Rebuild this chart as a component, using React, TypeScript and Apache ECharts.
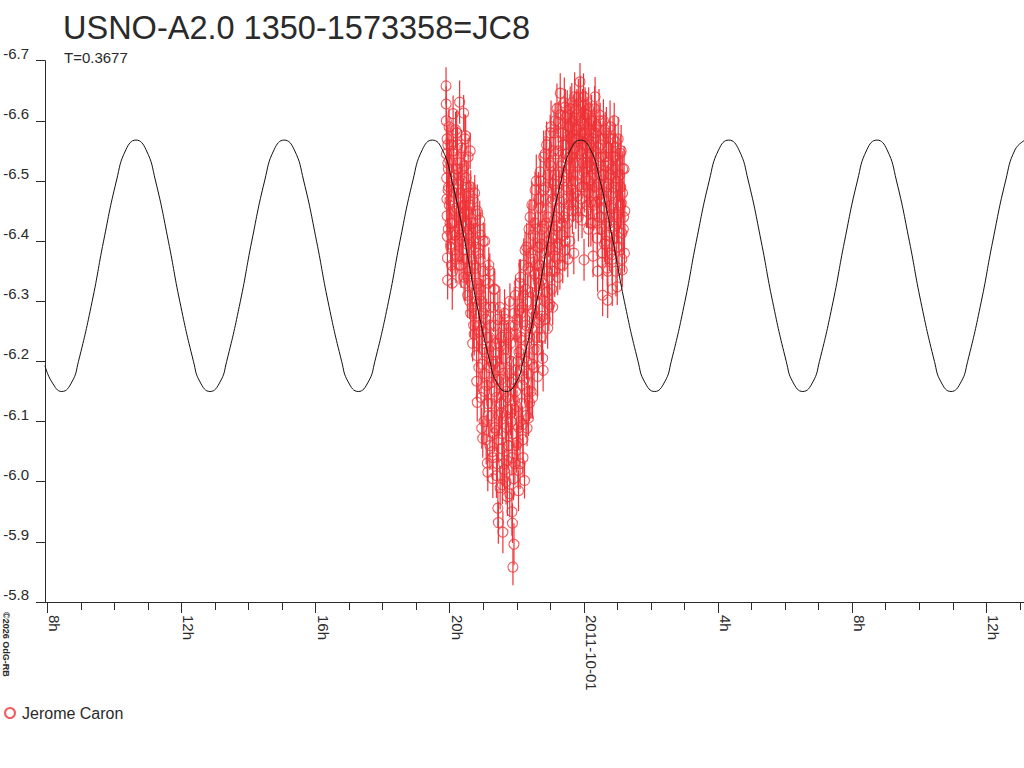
import React, { useEffect, useRef } from "react";
import * as echarts from "echarts";

const TITLE = "USNO-A2.0 1350-1573358=JC8";
const PERIOD_LABEL = "T=0.3677";
const OBSERVER = "Jerome Caron";
const COPYRIGHT = "©2026 OdG-RB";
const DATE_LABEL = "2011-10-01";

// hours relative to 2011-10-01 00:00 UT
const X_MIN = -16.0686;
const X_MAX = 13.124;
const MAJOR_TICKS = [-16, -12, -8, -4, 0, 4, 8, 12];
const MINOR_TICKS = [-16, -15, -14, -13, -12, -11, -10, -9, -8, -7, -6, -5, -4, -3, -2, -1, 0, 1, 2, 3, 4, 5, 6, 7, 8, 9, 10, 11, 12, 13];
const Y_MIN = -6.7;
const Y_MAX = -5.8;
const Y_STEP = 0.1;

// fitted light-curve: [hour, magnitude]
const fitCurve: [number, number][] = [
  [-16.07, -6.193], [-15.866, -6.166], [-15.566, -6.15], [-15.266, -6.166],
  [-15.071, -6.2], [-14.662, -6.3], [-14.322, -6.4], [-13.94, -6.5], [-13.656, -6.552], [-13.356, -6.568], [-13.056, -6.552], [-12.772, -6.5], [-12.39, -6.4], [-12.05, -6.3], [-11.641, -6.2], [-11.447, -6.166], [-11.147, -6.15], [-10.847, -6.166],
  [-10.652, -6.2], [-10.243, -6.3], [-9.903, -6.4], [-9.521, -6.5], [-9.237, -6.552], [-8.937, -6.568], [-8.637, -6.552], [-8.353, -6.5], [-7.971, -6.4], [-7.631, -6.3], [-7.222, -6.2], [-7.028, -6.166], [-6.728, -6.15], [-6.428, -6.166],
  [-6.233, -6.2], [-5.824, -6.3], [-5.484, -6.4], [-5.102, -6.5], [-4.818, -6.552], [-4.518, -6.568], [-4.218, -6.552], [-3.934, -6.5], [-3.552, -6.4], [-3.212, -6.3], [-2.803, -6.2], [-2.609, -6.166], [-2.309, -6.15], [-2.009, -6.166],
  [-1.814, -6.2], [-1.405, -6.3], [-1.065, -6.4], [-0.683, -6.5], [-0.399, -6.552], [-0.099, -6.568], [0.201, -6.552], [0.485, -6.5], [0.867, -6.4], [1.207, -6.3], [1.616, -6.2], [1.81, -6.166], [2.11, -6.15], [2.41, -6.166],
  [2.605, -6.2], [3.014, -6.3], [3.354, -6.4], [3.736, -6.5], [4.02, -6.552], [4.32, -6.568], [4.62, -6.552], [4.904, -6.5], [5.286, -6.4], [5.626, -6.3], [6.035, -6.2], [6.229, -6.166], [6.529, -6.15], [6.829, -6.166],
  [7.024, -6.2], [7.433, -6.3], [7.773, -6.4], [8.155, -6.5], [8.439, -6.552], [8.739, -6.568], [9.039, -6.552], [9.323, -6.5], [9.705, -6.4], [10.045, -6.3], [10.454, -6.2], [10.648, -6.166], [10.948, -6.15], [11.248, -6.166],
  [11.443, -6.2], [11.852, -6.3], [12.192, -6.4], [12.574, -6.5], [12.858, -6.552], [13.158, -6.568],
];

// observations, first pass (edges and outliers): [hour, magnitude, error]
const observationsA: [number, number, number][] = [
  [-4.110, -6.658, 0.031], [-4.105, -6.628, 0.030], [-4.098, -6.545, 0.028], [-4.092, -6.505, 0.025], [-4.086, -6.470, 0.034], [-4.080, -6.442, 0.035], [-4.074, -6.408, 0.030], [-4.068, -6.372, 0.028], [-4.062, -6.335, 0.032], [-4.056, -6.560, 0.030], [-4.050, -6.485, 0.025], [-4.044, -6.420, 0.036], [-4.038, -6.520, 0.028],
  [-4.020, -6.590, 0.030], [-4.005, -6.535, 0.032], [-3.990, -6.468, 0.028], [-3.975, -6.395, 0.030], [-3.960, -6.560, 0.035], [-3.945, -6.500, 0.026], [-3.930, -6.430, 0.028], [-3.915, -6.350, 0.033], [-3.900, -6.612, 0.030], [-3.885, -6.545, 0.028], [-3.870, -6.480, 0.038], [-3.855, -6.415, 0.030], [-3.840, -6.378, 0.032],
  [-3.825, -6.585, 0.030], [-3.810, -6.520, 0.028], [-3.795, -6.455, 0.033], [-3.780, -6.400, 0.035], [-3.765, -6.560, 0.030], [-3.750, -6.495, 0.027], [-3.735, -6.440, 0.028], [-3.720, -6.360, 0.032], [-3.705, -6.631, 0.036], [-3.690, -6.530, 0.030],
  [-3.675, -6.470, 0.030], [-3.660, -6.410, 0.033], [-3.645, -6.555, 0.030], [-3.630, -6.500, 0.028], [-3.615, -6.440, 0.034], [-3.600, -6.370, 0.032], [-3.585, -6.613, 0.030], [-3.570, -6.525, 0.026], [-3.555, -6.460, 0.028], [-3.540, -6.330, 0.030],
  [-3.525, -6.575, 0.035], [-3.510, -6.505, 0.030], [-3.495, -6.450, 0.027], [-3.480, -6.395, 0.028], [-3.465, -6.340, 0.033], [-3.450, -6.540, 0.032], [-3.435, -6.480, 0.030], [-3.420, -6.420, 0.036], [-3.405, -6.300, 0.030],
  [-3.390, -6.550, 0.030], [-3.375, -6.490, 0.028], [-3.360, -6.430, 0.028], [-3.345, -6.370, 0.034], [-3.330, -6.290, 0.032], [-3.315, -6.230, 0.030], [-3.300, -6.470, 0.027], [-3.285, -6.400, 0.030], [-3.270, -6.245, 0.035],
  [-3.255, -6.480, 0.030], [-3.240, -6.420, 0.033], [-3.225, -6.355, 0.028], [-3.210, -6.300, 0.030], [-3.195, -6.167, 0.030], [-3.180, -6.132, 0.032], [-3.165, -6.445, 0.026], [-3.150, -6.380, 0.030], [-3.135, -6.250, 0.036], [-3.120, -6.320, 0.030],
  [-3.105, -6.435, 0.032], [-3.090, -6.370, 0.030], [-3.075, -6.310, 0.027], [-3.060, -6.250, 0.030], [-3.045, -6.089, 0.034], [-3.030, -6.195, 0.030], [-3.015, -6.072, 0.032], [-3.000, -6.400, 0.030], [-2.985, -6.280, 0.028], [-2.970, -6.150, 0.035],
  [-2.955, -6.400, 0.030], [-2.940, -6.335, 0.028], [-2.925, -6.270, 0.033], [-2.910, -6.215, 0.030], [-2.895, -6.160, 0.027], [-2.880, -6.031, 0.030], [-2.865, -6.016, 0.032], [-2.850, -6.110, 0.036], [-2.835, -6.360, 0.030], [-2.820, -6.240, 0.030],
  [-2.805, -6.350, 0.030], [-2.790, -6.290, 0.026], [-2.775, -6.225, 0.030], [-2.760, -6.165, 0.034], [-2.745, -6.110, 0.030], [-2.730, -6.050, 0.028], [-2.715, -6.005, 0.032], [-2.700, -6.195, 0.030], [-2.685, -6.320, 0.035], [-2.670, -6.080, 0.030],
  [-2.655, -6.320, 0.030], [-2.640, -6.260, 0.033], [-2.625, -6.200, 0.028], [-2.610, -6.140, 0.030], [-2.595, -6.085, 0.036], [-2.580, -6.030, 0.030], [-2.565, -5.956, 0.032], [-2.550, -5.932, 0.035], [-2.535, -6.230, 0.027], [-2.520, -6.110, 0.030],
  [-2.505, -6.290, 0.030], [-2.490, -6.225, 0.028], [-2.475, -6.170, 0.034], [-2.460, -6.115, 0.030], [-2.445, -6.055, 0.030], [-2.430, -5.995, 0.032], [-2.415, -5.916, 0.035], [-2.400, -6.145, 0.027], [-2.385, -6.260, 0.030], [-2.370, -6.020, 0.033],
  [-2.355, -6.270, 0.030], [-2.340, -6.205, 0.036], [-2.325, -6.150, 0.030], [-2.310, -6.090, 0.028], [-2.295, -6.035, 0.030], [-2.280, -5.975, 0.032], [-2.265, -6.120, 0.030], [-2.250, -6.240, 0.026], [-2.235, -6.060, 0.034], [-2.220, -6.180, 0.030],
  [-2.205, -6.300, 0.030], [-2.190, -6.230, 0.028], [-2.175, -6.165, 0.033], [-2.160, -6.100, 0.030], [-2.145, -6.040, 0.030], [-2.130, -5.931, 0.033], [-2.115, -5.858, 0.030], [-2.100, -6.005, 0.036], [-2.085, -5.896, 0.035], [-2.070, -6.135, 0.030], [-2.055, -6.260, 0.028],
  [-2.040, -6.310, 0.030], [-2.025, -6.245, 0.033], [-2.010, -6.185, 0.030], [-1.995, -6.125, 0.027], [-1.980, -6.065, 0.030], [-1.965, -6.019, 0.030], [-1.950, -5.985, 0.034], [-1.935, -6.215, 0.030], [-1.920, -6.285, 0.028], [-1.905, -6.100, 0.030],
  [-1.890, -6.340, 0.030], [-1.875, -6.280, 0.035], [-1.860, -6.220, 0.030], [-1.845, -6.160, 0.028], [-1.830, -6.095, 0.030], [-1.815, -6.040, 0.033], [-1.800, -6.310, 0.030], [-1.785, -6.190, 0.026], [-1.770, -6.002, 0.030],
  [-1.755, -6.385, 0.030], [-1.740, -6.320, 0.028], [-1.725, -6.260, 0.033], [-1.710, -6.200, 0.030], [-1.695, -6.089, 0.030], [-1.680, -6.150, 0.034], [-1.665, -6.355, 0.030], [-1.650, -6.106, 0.030], [-1.635, -6.230, 0.027], [-1.620, -6.131, 0.030],
  [-1.605, -6.440, 0.030], [-1.590, -6.380, 0.033], [-1.575, -6.315, 0.030], [-1.560, -6.255, 0.028], [-1.545, -6.195, 0.030], [-1.530, -6.140, 0.035], [-1.515, -6.410, 0.030], [-1.500, -6.285, 0.030], [-1.485, -6.220, 0.026], [-1.470, -6.345, 0.030],
  [-1.455, -6.485, 0.030], [-1.440, -6.420, 0.028], [-1.425, -6.360, 0.034], [-1.410, -6.300, 0.030], [-1.395, -6.240, 0.030], [-1.380, -6.175, 0.033], [-1.365, -6.455, 0.030], [-1.350, -6.330, 0.027], [-1.335, -6.265, 0.030], [-1.320, -6.390, 0.030],
  [-1.305, -6.515, 0.030], [-1.290, -6.455, 0.033], [-1.275, -6.395, 0.030], [-1.260, -6.335, 0.028], [-1.245, -6.275, 0.030], [-1.230, -6.205, 0.030], [-1.215, -6.185, 0.035], [-1.200, -6.485, 0.030], [-1.185, -6.425, 0.026], [-1.170, -6.300, 0.030],
  [-1.155, -6.545, 0.030], [-1.140, -6.490, 0.028], [-1.125, -6.430, 0.033], [-1.110, -6.370, 0.030], [-1.095, -6.315, 0.030], [-1.080, -6.255, 0.034], [-1.065, -6.510, 0.030], [-1.050, -6.400, 0.027], [-1.035, -6.340, 0.030], [-1.020, -6.295, 0.032],
  [-1.005, -6.580, 0.030], [-0.990, -6.525, 0.033], [-0.975, -6.465, 0.030], [-0.960, -6.405, 0.028], [-0.945, -6.350, 0.030], [-0.930, -6.290, 0.030], [-0.915, -6.550, 0.035], [-0.900, -6.495, 0.030], [-0.885, -6.435, 0.026], [-0.870, -6.375, 0.030],
  [-0.855, -6.600, 0.030], [-0.840, -6.545, 0.028], [-0.825, -6.485, 0.033], [-0.810, -6.425, 0.030], [-0.795, -6.370, 0.030], [-0.780, -6.340, 0.030], [-0.765, -6.598, 0.034], [-0.750, -6.515, 0.030], [-0.735, -6.455, 0.027], [-0.720, -6.395, 0.030],
  [-0.705, -6.646, 0.033], [-0.690, -6.580, 0.030], [-0.675, -6.525, 0.028], [-0.660, -6.465, 0.030], [-0.645, -6.410, 0.033], [-0.630, -6.360, 0.030], [-0.615, -6.560, 0.030], [-0.600, -6.500, 0.026], [-0.585, -6.440, 0.030], [-0.570, -6.385, 0.035],
  [-0.555, -6.623, 0.030], [-0.540, -6.606, 0.030], [-0.525, -6.545, 0.033], [-0.510, -6.490, 0.030], [-0.495, -6.430, 0.028], [-0.480, -6.370, 0.030], [-0.465, -6.575, 0.030], [-0.450, -6.520, 0.034], [-0.435, -6.460, 0.030], [-0.420, -6.400, 0.030],
  [-0.405, -6.590, 0.030], [-0.390, -6.540, 0.027], [-0.375, -6.485, 0.030], [-0.360, -6.630, 0.033], [-0.345, -6.565, 0.030], [-0.330, -6.510, 0.030], [-0.315, -6.460, 0.028], [-0.300, -6.380, 0.035], [-0.285, -6.605, 0.030],
  [-0.270, -6.555, 0.030], [-0.255, -6.500, 0.033], [-0.240, -6.450, 0.030], [-0.225, -6.620, 0.028], [-0.210, -6.585, 0.030], [-0.195, -6.530, 0.030], [-0.180, -6.475, 0.034], [-0.165, -6.640, 0.030], [-0.150, -6.570, 0.027],
  [-0.115, -6.665, 0.031], [-0.100, -6.600, 0.030], [-0.085, -6.545, 0.030], [-0.070, -6.490, 0.033], [-0.055, -6.435, 0.030], [-0.040, -6.625, 0.028], [-0.025, -6.570, 0.030], [-0.010, -6.515, 0.030], [0.005, -6.369, 0.035], [0.020, -6.595, 0.030],
  [0.035, -6.626, 0.030], [0.050, -6.560, 0.033], [0.065, -6.505, 0.030], [0.080, -6.450, 0.028], [0.095, -6.610, 0.030], [0.110, -6.540, 0.030], [0.125, -6.480, 0.034], [0.140, -6.420, 0.030], [0.155, -6.585, 0.027],
  [0.185, -6.525, 0.030], [0.200, -6.465, 0.030], [0.215, -6.600, 0.033], [0.230, -6.545, 0.030], [0.245, -6.490, 0.028], [0.260, -6.430, 0.030], [0.275, -6.375, 0.035], [0.290, -6.570, 0.030], [0.305, -6.510, 0.030],
  [0.335, -6.640, 0.033], [0.350, -6.580, 0.030], [0.365, -6.520, 0.030], [0.380, -6.465, 0.028], [0.395, -6.405, 0.030], [0.410, -6.350, 0.034], [0.425, -6.555, 0.030], [0.440, -6.495, 0.027], [0.455, -6.440, 0.030],
  [0.485, -6.600, 0.030], [0.500, -6.540, 0.033], [0.515, -6.480, 0.030], [0.530, -6.420, 0.030], [0.545, -6.365, 0.028], [0.560, -6.310, 0.035], [0.575, -6.570, 0.030], [0.590, -6.510, 0.030], [0.605, -6.455, 0.033], [0.620, -6.395, 0.030],
  [0.635, -6.585, 0.030], [0.650, -6.525, 0.028], [0.665, -6.465, 0.030], [0.680, -6.410, 0.033], [0.695, -6.355, 0.030], [0.710, -6.302, 0.030], [0.725, -6.555, 0.034], [0.740, -6.495, 0.030], [0.755, -6.440, 0.027], [0.770, -6.380, 0.030],
  [0.785, -6.570, 0.030], [0.800, -6.510, 0.033], [0.815, -6.455, 0.030], [0.830, -6.377, 0.030], [0.845, -6.320, 0.028], [0.860, -6.540, 0.030], [0.875, -6.480, 0.035], [0.890, -6.425, 0.030], [0.905, -6.600, 0.030],
  [0.935, -6.565, 0.030], [0.950, -6.505, 0.033], [0.965, -6.445, 0.030], [0.980, -6.390, 0.028], [0.995, -6.324, 0.030], [1.010, -6.535, 0.030], [1.025, -6.475, 0.034], [1.040, -6.415, 0.030],
  [1.085, -6.546, 0.030], [1.100, -6.490, 0.030], [1.115, -6.463, 0.033], [1.130, -6.413, 0.030], [1.145, -6.352, 0.028], [1.160, -6.520, 0.030], [1.185, -6.440, 0.030], [1.210, -6.380, 0.032],
];

// observations, second pass (dense core of the band): [hour, magnitude, error]
const observationsB: [number, number, number][] = [
  [-4.101, -6.60, 0.040], [-4.079, -6.57, 0.036], [-4.057, -6.53, 0.042], [-4.035, -6.49, 0.038], [-4.013, -6.46, 0.045], [-3.991, -6.43, 0.037], [-3.969, -6.39, 0.041], [-3.947, -6.36, 0.039], [-3.925, -6.33, 0.044], [-3.903, -6.55, 0.036], [-3.881, -6.51, 0.042], [-3.859, -6.45, 0.038], [-3.837, -6.41, 0.045], [-3.815, -6.37, 0.040], [-3.793, -6.58, 0.037], [-3.771, -6.52, 0.043], [-3.749, -6.47, 0.039], [-3.727, -6.42, 0.041],
  [-3.705, -6.42, 0.040], [-3.683, -6.48, 0.044], [-3.661, -6.36, 0.038], [-3.639, -6.52, 0.042], [-3.617, -6.40, 0.036], [-3.595, -6.46, 0.045], [-3.573, -6.34, 0.039], [-3.551, -6.57, 0.041], [-3.529, -6.43, 0.037], [-3.507, -6.37, 0.043], [-3.485, -6.49, 0.040], [-3.463, -6.31, 0.038], [-3.441, -6.41, 0.044], [-3.419, -6.35, 0.036], [-3.397, -6.46, 0.042], [-3.375, -6.28, 0.040], [-3.353, -6.39, 0.045], [-3.331, -6.33, 0.037], [-3.309, -6.43, 0.041], [-3.287, -6.26, 0.039], [-3.265, -6.36, 0.043],
  [-3.243, -6.39, 0.040], [-3.221, -6.28, 0.042], [-3.199, -6.21, 0.038], [-3.177, -6.45, 0.044], [-3.155, -6.33, 0.036], [-3.133, -6.19, 0.041], [-3.111, -6.26, 0.045], [-3.089, -6.41, 0.039], [-3.067, -6.14, 0.043], [-3.045, -6.30, 0.037], [-3.023, -6.22, 0.040], [-3.001, -6.35, 0.042], [-2.979, -6.10, 0.038], [-2.957, -6.18, 0.044], [-2.935, -6.29, 0.036], [-2.913, -6.07, 0.041], [-2.891, -6.24, 0.045], [-2.869, -6.13, 0.039], [-2.847, -6.33, 0.043], [-2.825, -6.19, 0.037], [-2.803, -6.06, 0.040],
  [-2.783, -6.26, 0.042], [-2.761, -6.13, 0.038], [-2.739, -6.20, 0.044], [-2.717, -6.04, 0.036], [-2.695, -6.29, 0.041], [-2.673, -6.15, 0.045], [-2.651, -6.09, 0.039], [-2.629, -6.23, 0.043], [-2.607, -6.01, 0.037], [-2.585, -6.17, 0.040], [-2.563, -6.27, 0.042], [-2.541, -6.07, 0.038], [-2.519, -6.19, 0.044], [-2.497, -5.99, 0.036], [-2.475, -6.13, 0.041], [-2.453, -6.24, 0.045], [-2.431, -6.08, 0.039],
  [-2.409, -6.18, 0.043], [-2.387, -6.03, 0.037], [-2.365, -6.28, 0.040], [-2.343, -6.11, 0.042], [-2.321, -6.00, 0.038], [-2.299, -6.22, 0.044], [-2.277, -6.14, 0.036], [-2.255, -6.06, 0.041], [-2.233, -6.26, 0.045], [-2.211, -5.98, 0.039], [-2.189, -6.12, 0.043], [-2.167, -6.20, 0.037], [-2.145, -5.95, 0.040], [-2.123, -6.08, 0.042], [-2.101, -6.17, 0.038], [-2.079, -6.28, 0.044], [-2.057, -6.03, 0.036],
  [-2.035, -6.15, 0.041], [-2.013, -6.06, 0.045], [-1.991, -6.27, 0.039], [-1.969, -6.20, 0.043], [-1.947, -6.09, 0.037], [-1.925, -6.33, 0.040], [-1.903, -6.03, 0.042], [-1.881, -6.24, 0.038], [-1.859, -6.13, 0.044], [-1.837, -6.29, 0.036], [-1.815, -6.07, 0.041], [-1.793, -6.36, 0.045], [-1.771, -6.17, 0.039], [-1.749, -6.25, 0.043], [-1.727, -6.11, 0.037], [-1.705, -6.39, 0.040], [-1.683, -6.30, 0.042],
  [-1.661, -6.18, 0.038], [-1.639, -6.42, 0.044], [-1.617, -6.24, 0.036], [-1.595, -6.35, 0.041], [-1.573, -6.15, 0.045], [-1.551, -6.46, 0.039], [-1.529, -6.28, 0.043], [-1.507, -6.37, 0.037], [-1.485, -6.19, 0.040], [-1.463, -6.43, 0.042], [-1.441, -6.31, 0.038], [-1.419, -6.50, 0.044], [-1.397, -6.22, 0.036], [-1.375, -6.39, 0.041], [-1.353, -6.47, 0.045], [-1.331, -6.27, 0.039], [-1.309, -6.36, 0.043],
  [-1.287, -6.50, 0.037], [-1.265, -6.24, 0.040], [-1.243, -6.42, 0.042], [-1.221, -6.33, 0.038], [-1.199, -6.54, 0.044], [-1.177, -6.38, 0.036], [-1.155, -6.27, 0.041], [-1.133, -6.47, 0.045], [-1.111, -6.56, 0.039], [-1.089, -6.35, 0.043], [-1.067, -6.44, 0.037], [-1.045, -6.29, 0.040], [-1.023, -6.53, 0.042], [-1.001, -6.39, 0.038], [-0.979, -6.59, 0.044], [-0.957, -6.32, 0.036], [-0.935, -6.47, 0.041], [-0.913, -6.41, 0.045], [-0.891, -6.58, 0.039], [-0.869, -6.35, 0.043],
  [-0.847, -6.51, 0.037], [-0.825, -6.44, 0.040], [-0.803, -6.62, 0.042], [-0.781, -6.39, 0.038], [-0.759, -6.55, 0.044], [-0.737, -6.48, 0.036], [-0.715, -6.36, 0.041], [-0.693, -6.61, 0.045], [-0.671, -6.43, 0.039], [-0.649, -6.53, 0.043], [-0.627, -6.58, 0.037], [-0.605, -6.47, 0.040], [-0.583, -6.63, 0.042], [-0.561, -6.40, 0.038], [-0.539, -6.56, 0.044], [-0.517, -6.51, 0.036], [-0.495, -6.61, 0.041], [-0.473, -6.45, 0.045], [-0.451, -6.59, 0.039], [-0.429, -6.54, 0.043],
  [-0.407, -6.62, 0.037], [-0.385, -6.50, 0.040], [-0.363, -6.57, 0.042], [-0.341, -6.45, 0.038], [-0.319, -6.60, 0.044], [-0.297, -6.53, 0.036], [-0.275, -6.64, 0.041], [-0.253, -6.48, 0.045], [-0.231, -6.57, 0.039], [-0.209, -6.61, 0.043], [-0.187, -6.51, 0.037], [-0.165, -6.44, 0.040], [-0.143, -6.59, 0.042], [-0.121, -6.55, 0.038], [-0.099, -6.63, 0.044], [-0.077, -6.47, 0.036], [-0.055, -6.58, 0.041], [-0.033, -6.53, 0.045], [-0.011, -6.64, 0.039], [0.011, -6.49, 0.043],
  [0.033, -6.58, 0.037], [0.055, -6.61, 0.040], [0.077, -6.53, 0.042], [0.099, -6.46, 0.038], [0.121, -6.57, 0.044], [0.143, -6.62, 0.036], [0.165, -6.50, 0.041], [0.187, -6.56, 0.045], [0.209, -6.43, 0.039], [0.231, -6.60, 0.043], [0.253, -6.52, 0.037], [0.275, -6.58, 0.040], [0.297, -6.46, 0.042], [0.319, -6.62, 0.038], [0.341, -6.55, 0.044], [0.363, -6.49, 0.036], [0.385, -6.59, 0.041], [0.407, -6.43, 0.045], [0.429, -6.53, 0.039], [0.451, -6.61, 0.043], [0.473, -6.47, 0.037],
  [0.495, -6.56, 0.040], [0.517, -6.44, 0.042], [0.539, -6.51, 0.038], [0.561, -6.38, 0.044], [0.583, -6.60, 0.036], [0.605, -6.47, 0.041], [0.627, -6.54, 0.045], [0.649, -6.40, 0.039], [0.671, -6.58, 0.043], [0.693, -6.49, 0.037], [0.715, -6.35, 0.040], [0.737, -6.53, 0.042], [0.759, -6.43, 0.038], [0.781, -6.59, 0.044], [0.803, -6.46, 0.036], [0.825, -6.52, 0.041], [0.847, -6.37, 0.045],
  [0.869, -6.57, 0.039], [0.891, -6.49, 0.043], [0.913, -6.42, 0.037], [0.935, -6.54, 0.040], [0.957, -6.35, 0.042], [0.979, -6.50, 0.038], [1.001, -6.44, 0.044], [1.023, -6.57, 0.036], [1.045, -6.39, 0.041], [1.067, -6.51, 0.045], [1.089, -6.46, 0.039], [1.111, -6.55, 0.043], [1.133, -6.37, 0.037], [1.155, -6.48, 0.040], [1.177, -6.42, 0.042], [1.199, -6.52, 0.038], [1.221, -6.45, 0.044],
];

const RED = "#ee3338";
const INK = "#2a2a2a";
const FONT = "'Liberation Sans', Arial, sans-serif";

function formatHour(v: number): string {
  if (Math.abs(v) < 1e-9) return DATE_LABEL;
  const h = ((Math.round(v) % 24) + 24) % 24;
  return `${h}h`;
}

export default function App() {
  const ref = useRef<HTMLDivElement>(null);

  useEffect(() => {
    if (!ref.current) return;
    const chart = echarts.init(ref.current, undefined, { renderer: "svg" });
    const observations = observationsB.concat(observationsA);
    const option: any = {
      animation: false,
      backgroundColor: "#ffffff",
      title: [
        {
          text: TITLE,
          left: 63,
          top: 11,
          padding: 0,
          textStyle: { fontFamily: FONT, fontSize: 32.5, fontWeight: "normal", color: INK },
        },
        {
          text: PERIOD_LABEL,
          left: 64,
          top: 50,
          padding: 0,
          textStyle: { fontFamily: FONT, fontSize: 15, fontWeight: "normal", color: INK },
        },
      ],
      legend: {
        left: 4,
        top: 705,
        padding: 0,
        itemWidth: 10,
        itemHeight: 10,
        data: [{ name: OBSERVER, icon: "circle" }],
        textStyle: { fontFamily: FONT, fontSize: 16, color: INK, padding: [0, 0, 0, 2] },
      },
      grid: { left: 45, top: 60.7, right: 0, height: 541.3, containLabel: false },
      xAxis: [
        {
          type: "value",
          min: X_MIN,
          max: X_MAX,
          position: "bottom",
          axisLine: { show: true, onZero: false, lineStyle: { color: INK, width: 1 } },
          axisTick: { show: true, length: 11, customValues: MAJOR_TICKS, lineStyle: { color: INK } },
          axisLabel: {
            show: true,
            customValues: MAJOR_TICKS,
            rotate: -90,
            align: "left",
            verticalAlign: "bottom",
            margin: 13,
            fontFamily: FONT,
            fontSize: 15,
            color: INK,
            formatter: formatHour,
          },
          splitLine: { show: false },
        },
        {
          type: "value",
          min: X_MIN,
          max: X_MAX,
          position: "bottom",
          axisLine: { show: false, onZero: false },
          axisTick: { show: true, length: 8, customValues: MINOR_TICKS, lineStyle: { color: INK } },
          axisLabel: { show: false },
          splitLine: { show: false },
        },
      ],
      yAxis: {
        type: "value",
        inverse: true,
        min: Y_MIN,
        max: Y_MAX,
        interval: Y_STEP,
        axisLine: { show: true, onZero: false, lineStyle: { color: INK, width: 1 } },
        axisTick: { show: true, length: 9, lineStyle: { color: INK } },
        axisLabel: {
          margin: 16,
          fontFamily: FONT,
          fontSize: 15,
          color: INK,
          verticalAlign: "bottom",
          formatter: (v: number) => v.toFixed(1),
        },
        splitLine: { show: false },
      },
      graphic: [
        {
          type: "text",
          x: 1,
          y: 612,
          rotation: -Math.PI / 2,
          style: {
            text: COPYRIGHT,
            fill: INK,
            font: `bold 9px ${FONT}`,
            textAlign: "left",
            textVerticalAlign: "bottom",
          },
        },
      ],
      series: [
        {
          type: "custom",
          name: "error bars",
          xAxisIndex: 0,
          silent: true,
          z: 2,
          renderItem: (params: any, api: any) => {
            const t = api.value(0);
            const p1 = api.coord([t, api.value(1)]);
            const p2 = api.coord([t, api.value(2)]);
            return {
              type: "line",
              shape: { x1: p1[0], y1: p1[1], x2: p2[0], y2: p2[1] },
              style: { stroke: RED, lineWidth: 1.2 },
            };
          },
          encode: { x: 0, y: [1, 2] },
          data: observations.map(([t, m, e]) => [t, m - e, m + e]),
        },
        {
          type: "scatter",
          name: OBSERVER,
          xAxisIndex: 0,
          symbol: "circle",
          symbolSize: 10,
          z: 3,
          itemStyle: { color: "rgba(255,255,255,0)", borderColor: RED, borderWidth: 1.1 },
          data: observations.map(([t, m]) => [t, m]),
        },
        {
          type: "line",
          name: "fit",
          xAxisIndex: 0,
          smooth: true,
          showSymbol: false,
          z: 4,
          lineStyle: { color: "#111111", width: 1 },
          data: fitCurve,
        },
      ],
    };
    chart.setOption(option);
    return () => chart.dispose();
  }, []);

  return (
    <div
      ref={ref}
      style={{ position: "fixed", left: 0, top: 0, width: 1024, height: 768, background: "#fff" }}
    />
  );
}
